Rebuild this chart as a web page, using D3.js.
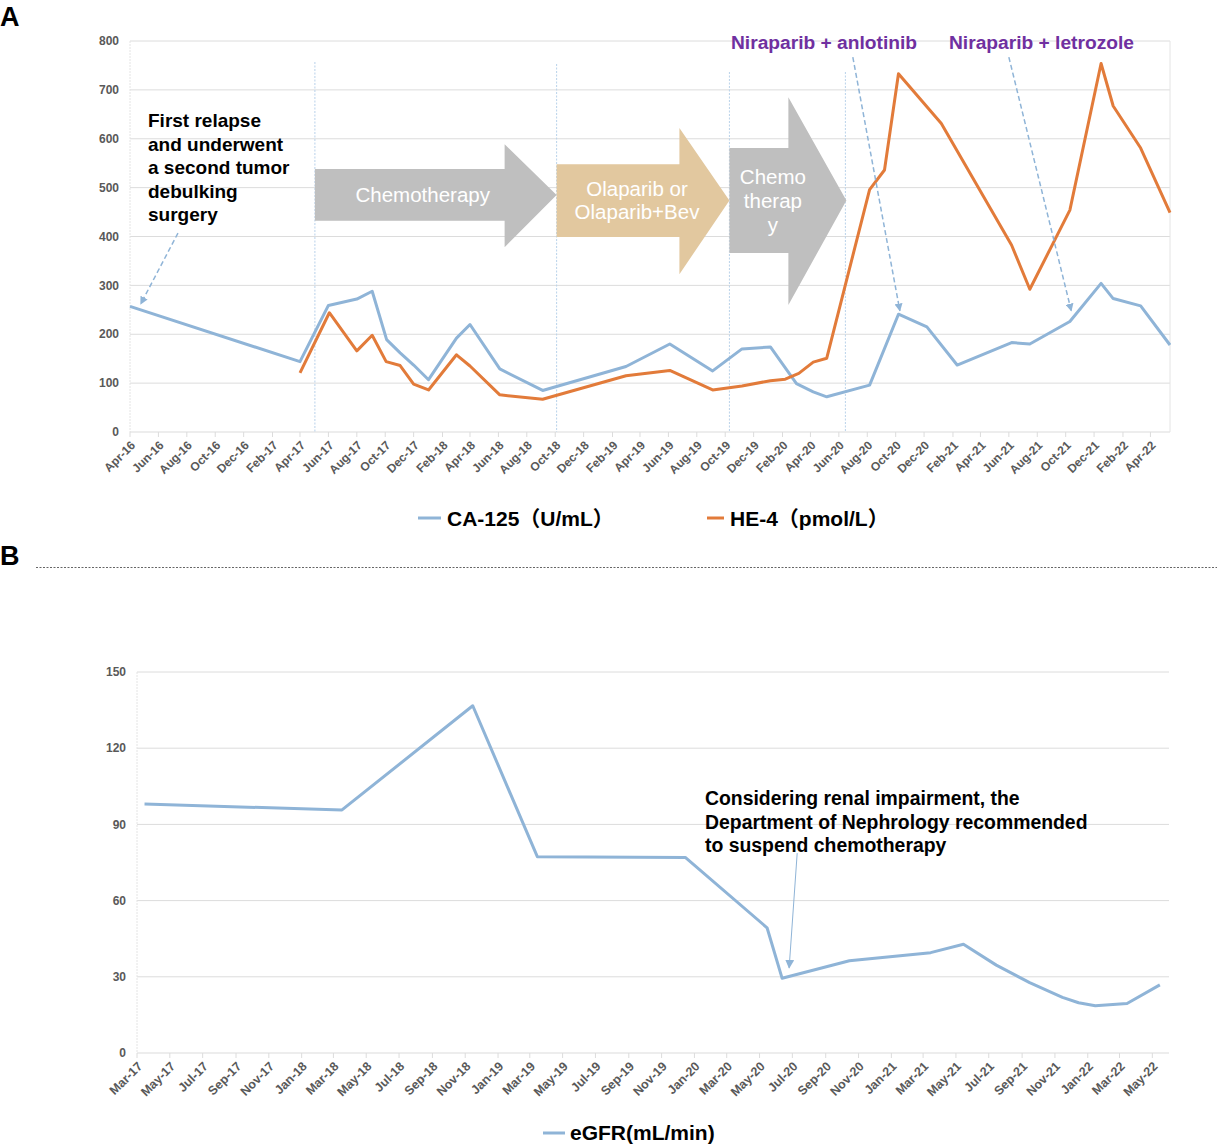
<!DOCTYPE html>
<html>
<head>
<meta charset="utf-8">
<script src="https://cdnjs.cloudflare.com/ajax/libs/d3/7.8.5/d3.min.js"></script>
<style>
body { margin: 0; background: #fff; }
svg text { font-family: Arial, "Liberation Sans", "Noto Sans CJK SC", sans-serif; }
</style>
</head>
<body>
<div id="chart"></div>
<script>
// ---- panel A data ----
var ticks_a = ["Apr-16","Jun-16","Aug-16","Oct-16","Dec-16","Feb-17","Apr-17","Jun-17","Aug-17","Oct-17",
  "Dec-17","Feb-18","Apr-18","Jun-18","Aug-18","Oct-18","Dec-18","Feb-19","Apr-19","Jun-19","Aug-19",
  "Oct-19","Dec-19","Feb-20","Apr-20","Jun-20","Aug-20","Oct-20","Dec-20","Feb-21","Apr-21","Jun-21",
  "Aug-21","Oct-21","Dec-21","Feb-22","Apr-22"];
var y_ticks_a = [0, 100, 200, 300, 400, 500, 600, 700, 800];

var dates_ca125 = ["2016-04-01","2017-04-01","2017-06-01","2017-08-01","2017-09-03","2017-10-04","2017-11-02",
  "2017-12-01","2018-01-02","2018-03-03","2018-04-01","2018-06-04","2018-09-04","2019-03-02","2019-06-04",
  "2019-09-04","2019-11-06","2020-01-06","2020-03-02","2020-04-07","2020-05-06","2020-08-06","2020-10-07",
  "2020-12-07","2021-02-10","2021-06-07","2021-07-16","2021-10-10","2021-12-16","2022-01-11","2022-03-11",
  "2022-05-13"];
var values_ca125 = [257, 144, 259, 272, 288, 189, 162, 137, 107, 192, 220, 129, 85, 134, 180, 125, 170, 174,
  99, 82, 72, 96, 241, 215, 137, 183, 180, 226, 304, 273, 258, 178];

var dates_he4 = ["2017-04-01","2017-06-03","2017-08-01","2017-09-03","2017-10-03","2017-11-02","2017-12-01",
  "2018-01-02","2018-03-03","2018-04-01","2018-06-04","2018-09-04","2019-03-02","2019-06-04","2019-09-04",
  "2019-11-06","2020-01-06","2020-02-07","2020-03-07","2020-04-07","2020-05-06","2020-08-06","2020-09-07",
  "2020-10-07","2021-01-07","2021-06-07","2021-07-16","2021-10-10","2021-12-16","2022-01-11","2022-03-11",
  "2022-05-13"];
var values_he4 = [121, 244, 166, 198, 144, 136, 98, 86, 158, 135, 76, 67, 115, 126, 86, 94, 105, 108, 120,
  143, 151, 496, 536, 733, 631, 382, 292, 454, 754, 667, 581, 449];

var phase_dates = ["2017-05-03", "2018-10-04", "2019-10-10", "2020-06-15"];
var phase_labels = [["Chemotherapy"], ["Olaparib or", "Olaparib+Bev"], ["Chemo", "therap", "y"]];
var legend_a = ["CA-125（U/mL）", "HE-4（pmol/L）"];

// ---- panel B data ----
var ticks_b = ["Mar-17","May-17","Jul-17","Sep-17","Nov-17","Jan-18","Mar-18","May-18","Jul-18","Sep-18",
  "Nov-18","Jan-19","Mar-19","May-19","Jul-19","Sep-19","Nov-19","Jan-20","Mar-20","May-20","Jul-20",
  "Sep-20","Nov-20","Jan-21","Mar-21","May-21","Jul-21","Sep-21","Nov-21","Jan-22","Mar-22","May-22"];
var y_ticks_b = [0, 30, 60, 90, 120, 150];

var dates_egfr = ["2017-03-15","2018-03-17","2018-11-15","2019-03-15","2019-12-15","2020-05-15","2020-06-12",
  "2020-10-15","2021-03-15","2021-05-15","2021-07-15","2021-09-15","2021-11-15","2021-12-15","2022-01-15",
  "2022-03-15","2022-05-15"];
var values_egfr = [98.0, 95.7, 136.7, 77.3, 77.0, 49.3, 29.4, 36.3, 39.5, 42.8, 34.6, 27.7, 21.9, 19.8, 18.6,
  19.5, 26.8];
var legend_b = "eGFR(mL/min)";

// ---- drawing ----
var parse_day = d3.timeParse("%Y-%m-%d");
var parse_tick = d3.timeParse("%b-%y");
var color_blue = "#8FB4D7";
var color_orange = "#E27B3A";
var color_grid = "#DCDCDC";
var color_label = "#595959";

var svg = d3.select("#chart").append("svg")
  .attr("width", 1217)
  .attr("height", 1144);

var defs = svg.append("defs");
function add_head(id, size) {
  defs.append("marker")
    .attr("id", id)
    .attr("viewBox", "0 0 10 10")
    .attr("refX", 9).attr("refY", 5)
    .attr("markerWidth", size).attr("markerHeight", size)
    .attr("markerUnits", "userSpaceOnUse")
    .attr("orient", "auto")
    .append("path")
    .attr("d", "M0,0L10,5L0,10z")
    .attr("fill", color_blue);
}
add_head("head_dash", 8);
add_head("head_solid", 9);

function series(dates, values) {
  return dates.map(function (d, i) { return {date: parse_day(d), value: values[i]}; });
}

function draw_axes(g, x, y, x_ticks, y_ticks, font_x, font_y) {
  var x0 = x.range()[0], x1 = x.range()[1];
  var y0 = y.range()[0], y1 = y.range()[1];

  g.append("g").selectAll("line")
    .data(y_ticks.slice(1))
    .join("line")
    .attr("x1", x0).attr("x2", x1)
    .attr("y1", function (d) { return y(d); })
    .attr("y2", function (d) { return y(d); })
    .attr("stroke", color_grid)
    .attr("stroke-width", 1);

  g.append("line")
    .attr("x1", x0).attr("x2", x0).attr("y1", y1).attr("y2", y0)
    .attr("stroke", "#E4E4E4").attr("stroke-dasharray", "2,1");

  // bottom axis: line + outward ticks
  g.append("line")
    .attr("x1", x0).attr("x2", x1).attr("y1", y0).attr("y2", y0)
    .attr("stroke", color_grid).attr("stroke-width", 1.2);
  g.append("g").selectAll("line")
    .data(x_ticks)
    .join("line")
    .attr("x1", function (d) { return x(parse_tick(d)); })
    .attr("x2", function (d) { return x(parse_tick(d)); })
    .attr("y1", y0).attr("y2", y0 + 5)
    .attr("stroke", color_grid);

  g.append("g").selectAll("text")
    .data(x_ticks)
    .join("text")
    .attr("transform", function (d) {
      return "translate(" + (x(parse_tick(d)) + 3) + "," + (y0 + 11) + ") rotate(-45)";
    })
    .attr("text-anchor", "end")
    .attr("dy", "0.35em")
    .attr("font-size", font_x)
    .attr("font-weight", "bold")
    .attr("fill", color_label)
    .text(function (d) { return d; });

  g.append("g").selectAll("text")
    .data(y_ticks)
    .join("text")
    .attr("x", x0 - 11)
    .attr("y", function (d) { return y(d); })
    .attr("dy", "0.35em")
    .attr("text-anchor", "end")
    .attr("font-size", font_y)
    .attr("font-weight", "bold")
    .attr("fill", color_label)
    .text(function (d) { return d; });
}

function arrow_path(xa, xb, head_len, body_top, body_bot, head_top, head_bot) {
  var xh = xb - head_len;
  var tip = (body_top + body_bot) / 2;
  return "M" + xa + "," + body_top + "L" + xh + "," + body_top + "L" + xh + "," + head_top +
    "L" + xb + "," + tip + "L" + xh + "," + head_bot + "L" + xh + "," + body_bot +
    "L" + xa + "," + body_bot + "Z";
}

// ===== Panel A =====
var x_a = d3.scaleTime()
  .domain([parse_day("2016-04-01"), parse_day("2022-05-13")])
  .range([130, 1170]);
var y_a = d3.scaleLinear()
  .domain([0, 800])
  .range([432, 41]);

var g_a = svg.append("g");
draw_axes(g_a, x_a, y_a, ticks_a, y_ticks_a, "12px", "12px");

g_a.append("line")
  .attr("x1", 1170).attr("x2", 1170).attr("y1", 41).attr("y2", 432)
  .attr("stroke", "#E4E4E4");

// phase separators
var phase_tops = [62, 64, 72, 72];
g_a.append("g").selectAll("line")
  .data(phase_dates)
  .join("line")
  .attr("x1", function (d) { return x_a(parse_day(d)); })
  .attr("x2", function (d) { return x_a(parse_day(d)); })
  .attr("y1", function (d, i) { return phase_tops[i]; })
  .attr("y2", 432)
  .attr("stroke", "#B9D2EA")
  .attr("stroke-width", 1)
  .attr("stroke-dasharray", "2,1.5");

// treatment arrows
var px = phase_dates.map(function (d) { return x_a(parse_day(d)); });
var arrows = [
  {xa: px[0], xb: px[1], head: 52, bt: 538, bb: 432, ht: 589, hb: 378, fill: "#BFBFBF", shift: 13},
  {xa: px[1], xb: px[2], head: 50, bt: 548, bb: 399, ht: 622, hb: 323, fill: "#E2C89F", shift: 19},
  {xa: px[2], xb: px[3] + 1, head: 58, bt: 581, bb: 366, ht: 685, hb: 260, fill: "#BFBFBF", shift: 14}
];
arrows.forEach(function (a, i) {
  g_a.append("path")
    .attr("d", arrow_path(a.xa, a.xb, a.head, y_a(a.bt), y_a(a.bb), y_a(a.ht), y_a(a.hb)))
    .attr("fill", a.fill);
  var cx = (a.xa + a.xb - a.head) / 2 + a.shift;
  var cy = y_a((a.bt + a.bb) / 2);
  var lines = phase_labels[i];
  var lh = i === 2 ? 24 : 23;
  g_a.append("text")
    .attr("x", cx)
    .attr("y", cy - (lines.length - 1) * lh / 2)
    .attr("text-anchor", "middle")
    .attr("font-size", "20.5px")
    .attr("fill", "#fff")
    .selectAll("tspan")
    .data(lines)
    .join("tspan")
    .attr("x", cx)
    .attr("dy", function (d, j) { return j === 0 ? "0.35em" : lh; })
    .text(function (d) { return d; });
});

// data lines
var line_a = d3.line()
  .x(function (d) { return x_a(d.date); })
  .y(function (d) { return y_a(d.value); });

g_a.append("path")
  .datum(series(dates_ca125, values_ca125))
  .attr("d", line_a)
  .attr("fill", "none")
  .attr("stroke", color_blue)
  .attr("stroke-width", 3)
  .attr("stroke-linejoin", "round");

g_a.append("path")
  .datum(series(dates_he4, values_he4))
  .attr("d", line_a)
  .attr("fill", "none")
  .attr("stroke", color_orange)
  .attr("stroke-width", 3)
  .attr("stroke-linejoin", "round");

// annotations
var notes_a = [
  {from: ["2016-07-13", 407], to: ["2016-04-24", 262]},
  {from: ["2020-07-01", 767], to: ["2020-10-10", 248]},
  {from: ["2021-06-01", 767], to: ["2021-10-13", 248]}
];
g_a.append("g").selectAll("line")
  .data(notes_a)
  .join("line")
  .attr("x1", function (d) { return x_a(parse_day(d.from[0])); })
  .attr("y1", function (d) { return y_a(d.from[1]); })
  .attr("x2", function (d) { return x_a(parse_day(d.to[0])); })
  .attr("y2", function (d) { return y_a(d.to[1]); })
  .attr("stroke", color_blue)
  .attr("stroke-width", 1.5)
  .attr("stroke-dasharray", "5,3")
  .attr("marker-end", "url(#head_dash)");

var relapse = ["First relapse", "and underwent", "a second tumor", "debulking", "surgery"];
g_a.append("text")
  .attr("font-size", "19px")
  .attr("font-weight", "bold")
  .attr("fill", "#000")
  .selectAll("tspan")
  .data(relapse)
  .join("tspan")
  .attr("x", 148)
  .attr("y", function (d, i) { return 127 + i * 23.5; })
  .text(function (d) { return d; });

g_a.append("text")
  .attr("x", 731).attr("y", 49)
  .attr("font-size", "19.2px").attr("font-weight", "bold").attr("fill", "#7030A0")
  .text("Niraparib + anlotinib");
g_a.append("text")
  .attr("x", 949).attr("y", 49)
  .attr("font-size", "19.2px").attr("font-weight", "bold").attr("fill", "#7030A0")
  .text("Niraparib + letrozole");

// legend A
var leg_a = g_a.append("g");
[[418, 447, color_blue], [707, 730, color_orange]].forEach(function (p, i) {
  leg_a.append("line")
    .attr("x1", p[0]).attr("x2", p[1] - 6).attr("y1", 518).attr("y2", 518)
    .attr("stroke", p[2]).attr("stroke-width", 3);
  leg_a.append("text")
    .attr("x", p[1]).attr("y", 518).attr("dy", "0.36em")
    .attr("font-size", "21px").attr("font-weight", "bold").attr("fill", "#000")
    .text(legend_a[i]);
});

svg.append("text").attr("x", 0).attr("y", 26)
  .attr("font-size", "27px").attr("font-weight", "bold").text("A");

// ===== separator =====
svg.append("text").attr("x", 0).attr("y", 565)
  .attr("font-size", "27px").attr("font-weight", "bold").text("B");
svg.append("line")
  .attr("x1", 36).attr("x2", 1217).attr("y1", 567.5).attr("y2", 567.5)
  .attr("stroke", "#666").attr("stroke-width", 1).attr("stroke-dasharray", "2,1.5");

// ===== Panel B =====
var x_b = d3.scaleTime()
  .domain([parse_day("2017-03-01"), parse_day("2022-06-01")])
  .range([137, 1169]);
var y_b = d3.scaleLinear()
  .domain([0, 150])
  .range([1053, 672]);

var g_b = svg.append("g");
draw_axes(g_b, x_b, y_b, ticks_b, y_ticks_b, "12.5px", "12px");

g_b.append("path")
  .datum(series(dates_egfr, values_egfr))
  .attr("d", d3.line()
    .x(function (d) { return x_b(d.date); })
    .y(function (d) { return y_b(d.value); }))
  .attr("fill", "none")
  .attr("stroke", color_blue)
  .attr("stroke-width", 3)
  .attr("stroke-linejoin", "round");

var renal = ["Considering renal impairment, the", "Department of Nephrology recommended", "to suspend chemotherapy"];
g_b.append("text")
  .attr("font-size", "19.4px")
  .attr("font-weight", "bold")
  .attr("fill", "#000")
  .selectAll("tspan")
  .data(renal)
  .join("tspan")
  .attr("x", 705)
  .attr("y", function (d, i) { return 805 + i * 23.5; })
  .text(function (d) { return d; });

g_b.append("line")
  .attr("x1", x_b(parse_day("2020-07-10"))).attr("y1", y_b(78.7))
  .attr("x2", x_b(parse_day("2020-06-25"))).attr("y2", y_b(33.5))
  .attr("stroke", color_blue)
  .attr("stroke-width", 1)
  .attr("marker-end", "url(#head_solid)");

g_b.append("line")
  .attr("x1", 543).attr("x2", 565).attr("y1", 1133).attr("y2", 1133)
  .attr("stroke", color_blue).attr("stroke-width", 3);
g_b.append("text")
  .attr("x", 570).attr("y", 1133).attr("dy", "0.34em")
  .attr("font-size", "21px").attr("font-weight", "bold").attr("fill", "#000")
  .text(legend_b);
</script>
</body>
</html>
